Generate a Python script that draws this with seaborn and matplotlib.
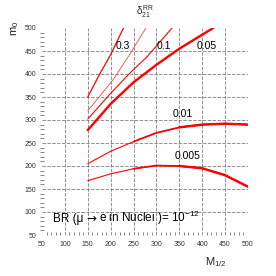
import numpy as np
import pandas as pd
import matplotlib
matplotlib.use("Agg")
import matplotlib.pyplot as plt
import seaborn as sns
from matplotlib.ticker import MultipleLocator
from matplotlib.offsetbox import TextArea, HPacker, AnnotationBbox

sns.set_style("white")
plt.rcParams['font.family'] = ['Liberation Sans', 'DejaVu Sans']
plt.rcParams['mathtext.fontset'] = 'custom'
plt.rcParams['mathtext.rm'] = 'Liberation Sans'
plt.rcParams['mathtext.it'] = 'Liberation Sans'
plt.rcParams['mathtext.bf'] = 'Liberation Sans:bold'

# curve data (M_1/2, m_0)
m12_a = [150, 175, 200, 228]
m0_a = [350, 398, 442, 500]
m12_b = [150, 205, 240, 277]
m0_b = [320, 387, 440, 500]
m12_c = [150, 200, 242, 279, 334]
m0_c = [302, 358, 402, 437, 500]
m12_d = [150, 200, 250, 300, 350, 424]
m0_d = [278, 335, 382, 420, 455, 500]
m12_e = [150, 200, 250, 300, 350, 400, 450, 500]
m0_e = [205, 232, 253, 272, 284, 290, 292, 290]
m12_f = [150, 200, 250, 300, 350, 400, 450, 500]
m0_f = [168, 183, 194, 201, 200, 195, 180, 155]

curve_labels = ["0.3", "0.1", "0.05", "0.01", "0.005"]
label_pos_x = [226, 316, 410, 358, 367]
label_pos_y = [449, 449, 449, 302, 211]

fig = plt.figure(figsize=(2.76, 2.76), dpi=100)
ax = fig.add_axes([42/276, 41/276, 206/276, 207/276])

curves = [
    (m12_a, m0_a, 0.9, "#ff0000"),
    (m12_b, m0_b, 0.6, "#ff4040"),
    (m12_c, m0_c, 0.8, "#ff0000"),
    (m12_d, m0_d, 1.7, "#ff0000"),
]
for xs, ys, lw, col in curves:
    df = pd.DataFrame({"x": xs, "y": ys})
    sns.lineplot(data=df, x="x", y="y", ax=ax, color=col, linewidth=lw, sort=False)

# lower curves: thin on left, thicker on right
for xs, ys in [(m12_e, m0_e), (m12_f, m0_f)]:
    df = pd.DataFrame({"x": xs, "y": ys})
    sns.lineplot(data=df, x="x", y="y", ax=ax, color="#ff0000", linewidth=0.8, sort=False)
    df2 = df[df["x"] >= 250]
    sns.lineplot(data=df2, x="x", y="y", ax=ax, color="#ff0000", linewidth=1.2, sort=False)
    df3 = df[df["x"] >= 350]
    sns.lineplot(data=df3, x="x", y="y", ax=ax, color="#ff0000", linewidth=1.7, sort=False)

for t, lx, ly in zip(curve_labels, label_pos_x, label_pos_y):
    ax.text(lx, ly, t, fontsize=7.5, ha="center", va="bottom", color="black")

ax.set_xlim(50, 500)
ax.set_ylim(50, 500)
for v in range(100, 500, 50):
    ax.axvline(v, color="#666666", lw=0.5, ls=(0, (5, 2)), zorder=0)
    ax.axhline(v, color="#666666", lw=0.5, ls=(0, (5, 2)), zorder=0)

for s in ax.spines.values():
    s.set_visible(False)

ax.xaxis.set_major_locator(MultipleLocator(50))
ax.yaxis.set_major_locator(MultipleLocator(50))
ax.xaxis.set_minor_locator(MultipleLocator(10))
ax.yaxis.set_minor_locator(MultipleLocator(10))
ax.tick_params(axis="both", which="major", labelsize=5, length=0, pad=4, colors="#333333")
ax.tick_params(axis="y", which="minor", length=2.5, width=0.5, direction="inout", colors="#555555", left=True)
ax.tick_params(axis="x", which="minor", length=2, width=0.5, direction="in", colors="#555555", bottom=True)
ax.set_xlabel("")
ax.set_ylabel("")

tp = dict(fontsize=8.5, color="black")
parts = HPacker(children=[
    TextArea("BR (\u03bc", textprops=tp),
    TextArea("\u2192", textprops=dict(fontsize=8.5, color="black", family="DejaVu Sans")),
    TextArea("e in Nuclei )= 10$^{-12}$", textprops=tp),
], align="baseline", pad=0, sep=2)
ab = AnnotationBbox(parts, (74, 68), xycoords="data", box_alignment=(0, 0),
                    frameon=False, pad=0)
ax.add_artist(ab)

fig.text(205/276, 1 - 262/276, r"M$_{1/2}$", fontsize=8, ha="left", va="center")
fig.text(15/276, 1 - 28/276, r"m$_0$", fontsize=8, rotation=90, ha="center", va="center")
fig.text(145/276, 1 - 12/276, r"$\delta_{21}^{RR}$", fontsize=7, ha="center", va="center")

fig.savefig("out.png", dpi=100)
